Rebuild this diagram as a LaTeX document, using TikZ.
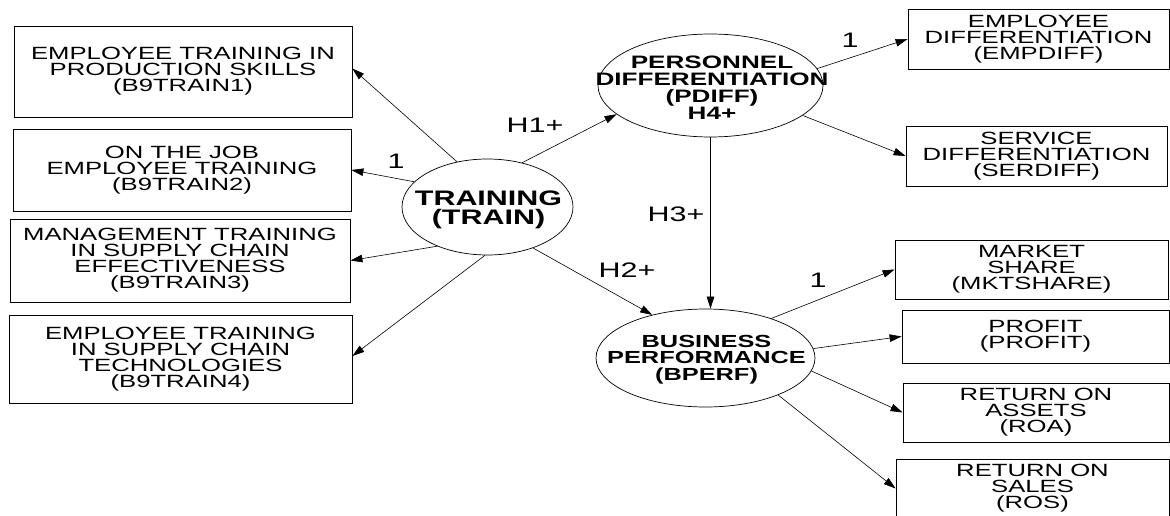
\documentclass[tikz,border=0pt]{standalone}
\usepackage{fontspec}
\setmainfont{Liberation Sans}[FakeStretch=1.45]
\usetikzlibrary{arrows.meta,shapes.geometric,calc}
\begin{document}
\begin{tikzpicture}[x=1pt,y=-1pt,
  obs/.style={draw, line width=0.8pt, rectangle, inner sep=0pt, align=center,
    font=\fontsize{17.7}{16}\selectfont},
  lat/.style={draw, line width=0.7pt, ellipse, inner sep=0pt},
  lattext/.style={align=center, inner sep=0pt},
  lab/.style={inner sep=0pt, font=\fontsize{21}{21}\selectfont},
  arr/.style={line width=0.6pt, -{Triangle[length=12pt,width=7.5pt]}},
]
\fill[white] (0,0) rectangle (1170,516);
\useasboundingbox (0,0) rectangle (1170,516);

% indicator boxes, left
\node[obs, minimum width=338, minimum height=91] (b1) at (183,71.5)
  {EMPLOYEE TRAINING IN\\PRODUCTION SKILLS\\(B9TRAIN1)};
\node[obs, minimum width=338, minimum height=82] (b2) at (182,170)
  {ON THE JOB\\EMPLOYEE TRAINING\\(B9TRAIN2)};
\node[obs, minimum width=340, minimum height=83] (b3) at (180,260.5)
  {MANAGEMENT TRAINING\\IN SUPPLY CHAIN\\EFFECTIVENESS\\(B9TRAIN3)};
\node[obs, minimum width=343, minimum height=88] (b4) at (180.5,359)
  {EMPLOYEE TRAINING\\IN SUPPLY CHAIN\\TECHNOLOGIES\\(B9TRAIN4)};

% indicator boxes, right
\node[obs, minimum width=261, minimum height=60] (emp) at (1038.5,39)
  {EMPLOYEE\\DIFFERENTIATION\\(EMPDIFF)};
\node[obs, minimum width=261, minimum height=60] (ser) at (1036.5,156)
  {SERVICE\\DIFFERENTIATION\\(SERDIFF)};
\node[obs, minimum width=273, minimum height=59] (mkt) at (1031.5,269.5)
  {MARKET\\SHARE\\(MKTSHARE)};
\node[obs, minimum width=267, minimum height=53] (prof) at (1035.5,336.5)
  {PROFIT\\(PROFIT)};
\node[obs, minimum width=266, minimum height=59] (roa) at (1036,412.5)
  {RETURN ON\\ASSETS\\(ROA)};
\node[obs, minimum width=273, minimum height=59] (ros) at (1032.5,488.5)
  {RETURN ON\\SALES\\(ROS)};

% latent variables
\node[lat, minimum width=171, minimum height=96] (train) at (487.5,207) {};
\node[lat, minimum width=225, minimum height=103] (pdiff) at (710.5,85.5) {};
\node[lat, minimum width=219, minimum height=98] (bperf) at (705.5,358) {};

\node[lattext, font=\bfseries\fontsize{21}{19}\selectfont] (trainT) at (488.5,209.5)
  {TRAINING\\(TRAIN)};
\node[lattext, font=\bfseries\fontsize{18}{17}\selectfont] (pdiffT) at (712,88)
  {PERSONNEL\\DIFFERENTIATION\\(PDIFF)\\H4+};
\node[lattext, font=\bfseries\fontsize{17.5}{16.5}\selectfont] (bperfT) at (706.5,359.5)
  {BUSINESS\\PERFORMANCE\\(BPERF)};

% connectors
\draw[arr] (train.124) -- (b1.1.5);
\draw[arr] (train.161.5) -- (b2.east);
\draw[arr] (train.218.4) -- (b3.east);
\draw[arr] (train.267) -- (b4.1);
\draw[arr] (train.52.5) -- (pdiff.197.7);
\draw[arr] (train.-42) -- (bperf.141.9);
\draw[arr] (pdiff.9.3) -- (emp.west);
\draw[arr] (pdiff.-18.3) -- (ser.west);
\draw[arr] (pdiff.south) -- (pdiff.south |- bperf.north);
\draw[arr] (bperf.31.8) -- (mkt.west);
\draw[arr] (bperf.5.2) -- (prof.west);
\draw[arr] (bperf.-7.3) -- (roa.west);
\draw[arr] (bperf.-27.7) -- (ros.west);

% labels
\node[lab] (l1) at (396,161) {1};
\node[lab] (lh1) at (535,125) {H1+};
\node[lab] (lh3) at (676,214) {H3+};
\node[lab] (lh2) at (627,270) {H2+};
\node[lab] (l2) at (850,40) {1};
\node[lab] (l3) at (818,280) {1};
\end{tikzpicture}
\end{document}
